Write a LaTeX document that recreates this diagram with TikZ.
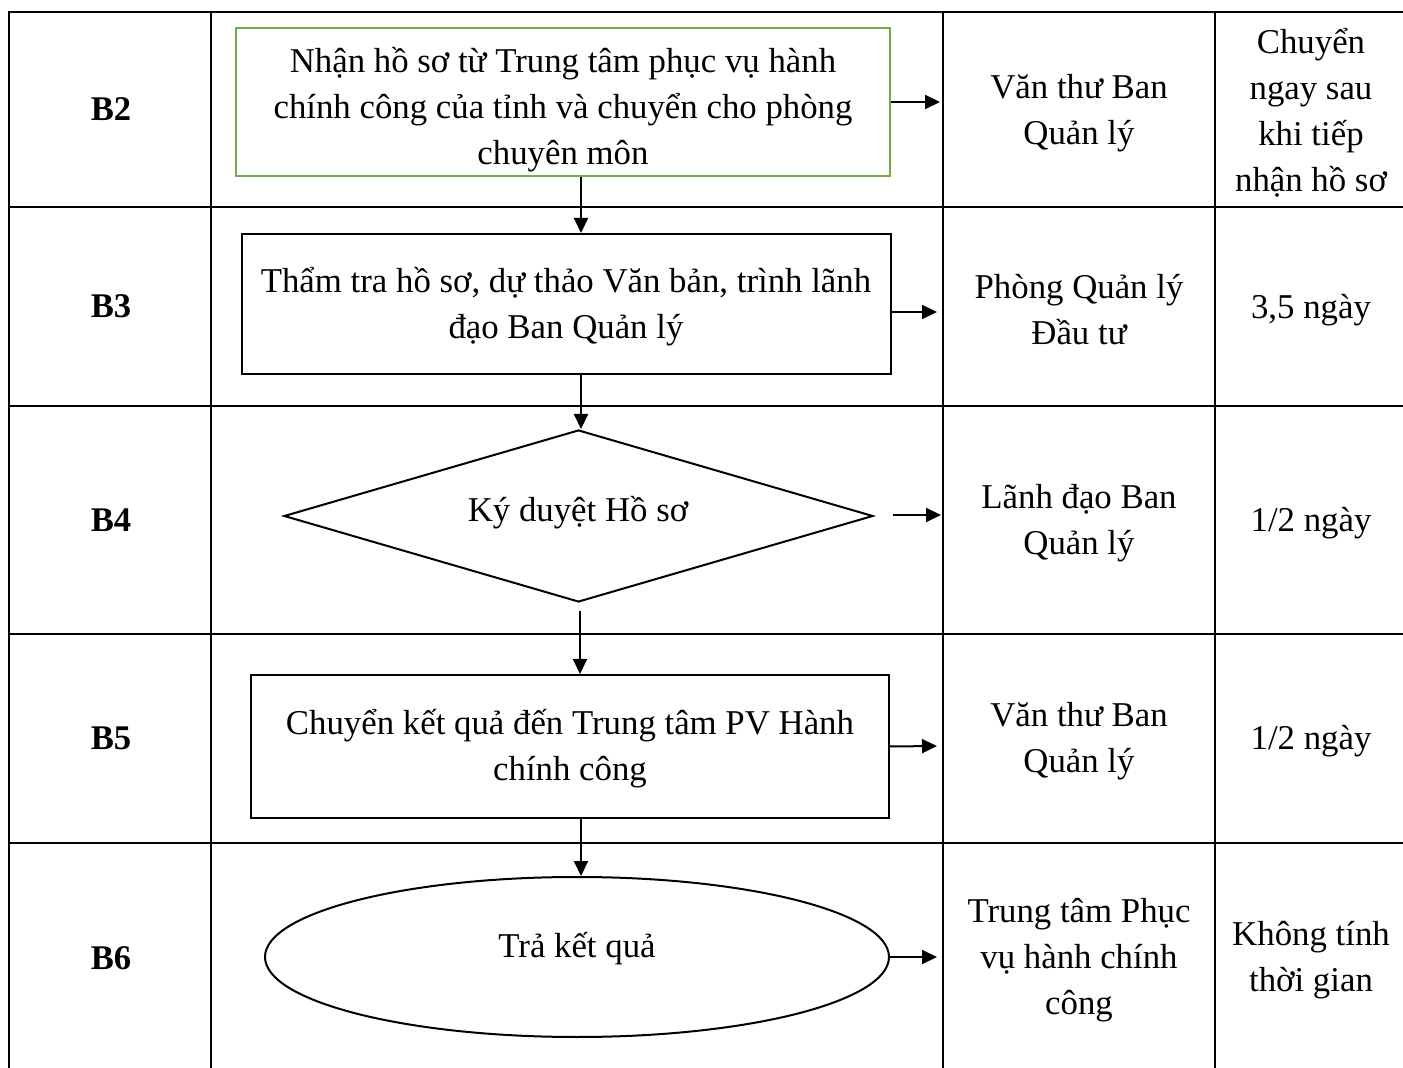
\documentclass[tikz,border=0pt]{standalone}
\usepackage{fontspec}
\setmainfont{Liberation Serif}
\usetikzlibrary{shapes.geometric,arrows.meta}
\definecolor{boxgreen}{HTML}{70AD47}
\begin{document}
\begin{tikzpicture}[x=0.5pt,y=-0.5pt,
  grid/.style={line width=0.8pt,black},
  flow/.style={draw,line width=1pt,inner sep=0pt},
  txt/.style={align=center,inner sep=0pt,yshift=-1.5pt,font=\fontsize{17.4}{23}\selectfont},
  lbl/.style={inner sep=0pt,yshift=-0.5pt,font=\fontsize{17.3}{20}\selectfont\bfseries},
  arr/.style={line width=1pt,-{Triangle[length=7.5pt,width=7pt]}}]
\useasboundingbox (0,0) rectangle (1403,1068);
% grid
\draw[grid] (1403,12) -- (9,12) -- (9,1068);
\foreach \x in {211,943,1215} \draw[grid] (\x,12) -- (\x,1068);
\foreach \y in {207,406,634,843} \draw[grid] (9,\y) -- (1403,\y);
% row labels
\node[lbl] (l2) at (111,108) {B2};
\node[lbl] (l3) at (111,305) {B3};
\node[lbl] (l4) at (111,519) {B4};
\node[lbl] (l5) at (111,737) {B5};
\node[lbl] (l6) at (111,957) {B6};
% flow shapes
\node[flow,draw=boxgreen,minimum width=327pt,minimum height=74pt] (s2) at (563,102) {};
\node[txt] (t2) at (563,107)
  {Nhận hồ sơ từ Trung tâm phục vụ hành\\chính công của tỉnh và chuyển cho phòng\\chuyên môn};
\node[flow,minimum width=324.5pt,minimum height=70pt] (s3) at (566.5,304) {};
\node[txt] (t3) at (566,304) {Thẩm tra hồ sơ, dự thảo Văn bản, trình lãnh\\đạo Ban Quản lý};
\node[flow,diamond,minimum width=294.5pt,minimum height=86pt,aspect=3.4] (s4) at (578.5,516) {};
\node[txt] (t4) at (578,510) {Ký duyệt Hồ sơ};
\node[flow,minimum width=319pt,minimum height=71.5pt] (s5) at (570,746.5) {};
\node[txt] (t5) at (570,746) {Chuyển kết quả đến Trung tâm PV Hành\\chính công};
\node[flow,ellipse,minimum width=312pt,minimum height=80pt] (s6) at (577,957) {};
\node[txt] (t6) at (577,946) {Trả kết quả};
% column 3
\node[txt] (c2) at (1079,110) {Văn thư Ban\\Quản lý};
\node[txt] (c3) at (1079,307) {Phòng Quản lý\\Đầu tư};
\node[txt] (c4) at (1079,520) {Lãnh đạo Ban\\Quản lý};
\node[txt] (c5) at (1079,738) {Văn thư Ban\\Quản lý};
\node[txt] (c6) at (1079,957) {Trung tâm Phục\\vụ hành chính\\công};
% column 4
\node[txt] (d2) at (1311,110) {Chuyển\\ngay sau\\khi tiếp\\nhận hồ sơ};
\node[txt] (d3) at (1311,307) {3,5 ngày};
\node[txt] (d4) at (1311,520) {1/2 ngày};
\node[txt] (d5) at (1311,738) {1/2 ngày};
\node[txt] (d6) at (1311,957) {Không tính\\thời gian};
% arrow end points
\coordinate (e2) at (940,102);
\coordinate (e3) at (937,312);
\coordinate (e4) at (941,515);
\coordinate (e5) at (937,746);
\coordinate (e6) at (937,957);
\draw[arr] (s2.east) -- (e2);
\draw[arr] (s3.east |- e3) -- (e3);
\draw[arr] ([xshift=9.5pt]s4.east |- e4) -- (e4);
\draw[arr] (s5.east) -- (e5);
\draw[arr] (s6.east) -- (e6);
% vertical arrows
\draw[arr] (s2.south -| 581,0) -- (s3.north -| 581,0);
\draw[arr] (s3.south -| 581,0) -- (s4.north -| 581,0);
\draw[arr] ([yshift=-4pt]s4.south -| 580,0) -- (s5.north -| 580,0);
\draw[arr] (s5.south -| 581,0) -- (s6.north -| 581,0);
\end{tikzpicture}
\end{document}
